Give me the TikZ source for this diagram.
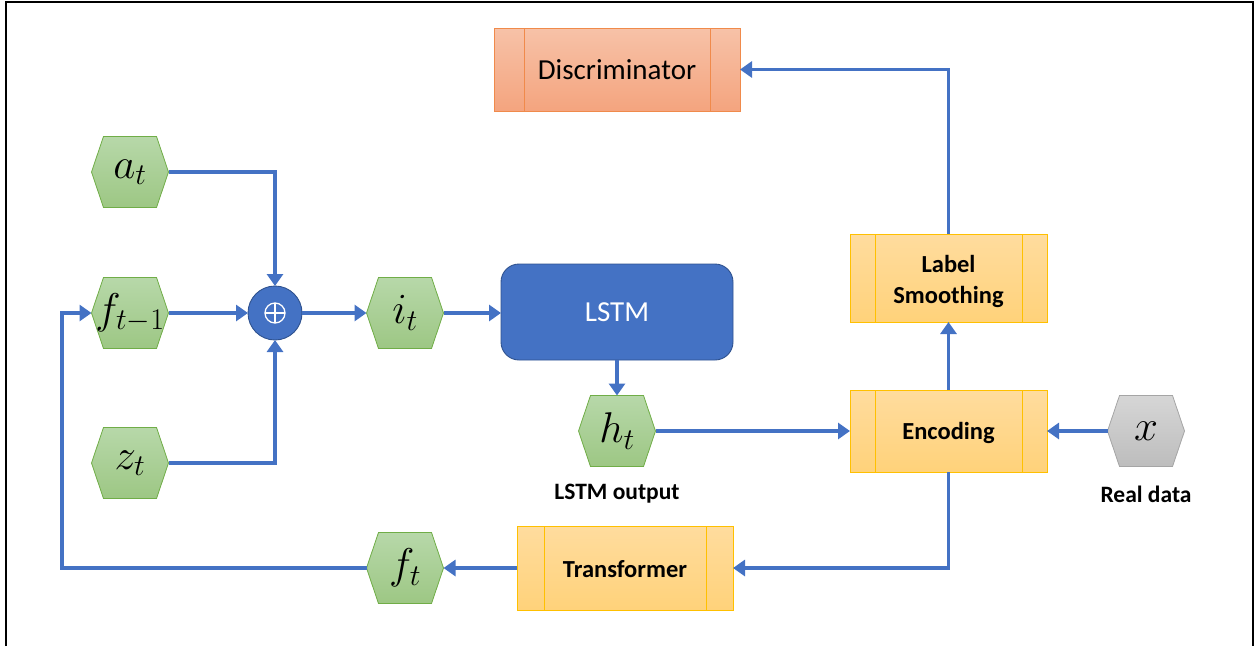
\RequirePackage{fix-cm}
\documentclass[tikz,border=0pt]{standalone}
\usepackage{fontspec}
\setmainfont{Carlito}
\usetikzlibrary{arrows.meta,calc}
\definecolor{blu}{HTML}{4472C4}
\definecolor{bluedge}{HTML}{2F528F}
\definecolor{gtop}{HTML}{B7D8A9}
\definecolor{gbot}{HTML}{9DC784}
\definecolor{gedge}{HTML}{70AD47}
\definecolor{ytop}{HTML}{FFDC9E}
\definecolor{ybot}{HTML}{FFD27A}
\definecolor{yedge}{HTML}{FFC000}
\definecolor{otop}{HTML}{F7C2A8}
\definecolor{obot}{HTML}{F4A47E}
\definecolor{oedge}{HTML}{F08A4B}
\definecolor{grtop}{HTML}{D6D6D6}
\definecolor{grbot}{HTML}{BDBDBD}
\definecolor{gredge}{HTML}{A5A5A5}
\tikzset{
  hexbox/.style={minimum width=77pt,minimum height=71pt,inner sep=0pt,outer sep=0pt},
  greenhex/.style={draw=gedge,line width=0.8pt,top color=gtop,bottom color=gbot},
  grayhex/.style={draw=gredge,line width=0.8pt,top color=grtop,bottom color=grbot},
  ybox/.style={draw=yedge,line width=0.9pt,top color=ytop,bottom color=ybot,inner sep=0pt,outer sep=0pt},
  boldtxt/.style={font=\fontsize{24.5}{31}\selectfont\bfseries,align=center},
  obox/.style={draw=oedge,line width=0.9pt,top color=otop,bottom color=obot,inner sep=0pt,outer sep=0pt,
    font=\fontsize{29}{34}\selectfont},
  conn/.style={draw=blu,line width=3.2pt,-{Triangle[length=12pt,width=16pt]}},
  mathlbl/.style={font=\fontsize{43}{50}\selectfont},
  caption/.style={font=\fontsize{23.5}{28}\selectfont\bfseries}
}
\newcommand\hexnode[4]{%
  \node[hexbox] (#1) at (#2) {};
  \draw[#4] (#1.west) -- ([xshift=12pt]#1.north west) -- ([xshift=-12pt]#1.north east)
    -- (#1.east) -- ([xshift=-12pt]#1.south east) -- ([xshift=12pt]#1.south west) -- cycle;
  \node[mathlbl] at (#1) {#3};
}
\newcommand\innerlines[3]{%
  \draw[#3,line width=0.9pt] ([xshift=#2]#1.north west) -- ([xshift=#2]#1.south west);
  \draw[#3,line width=0.9pt] ([xshift=-#2]#1.north east) -- ([xshift=-#2]#1.south east);
}
\begin{document}
\begin{tikzpicture}[x=1pt,y=-1pt]
\useasboundingbox (0,0) rectangle (1257,646);
\draw[line width=1.6pt] (6,646) -- (6,2) -- (1253,2) -- (1253,646);

% hexagons
\hexnode{at}{130,172}{$a_t$}{greenhex}
\hexnode{fm1}{130,313}{$f_{t-1}$}{greenhex}
\hexnode{zt}{130,463}{$z_t$}{greenhex}
\hexnode{it}{405,313}{$i_t$}{greenhex}
\hexnode{ht}{617,431}{$h_t$}{greenhex}
\hexnode{ft}{405,568}{$f_t$}{greenhex}
\hexnode{xr}{1146,431}{$x$}{grayhex}

% sum
\node[circle,fill=blu,draw=bluedge,line width=0.9pt,minimum size=54pt,inner sep=0pt,outer sep=0pt] (plus) at (275,313) {};
\draw[white,line width=1.3pt] (plus) circle (10pt);
\draw[white,line width=1.3pt] ($(plus)+(-10,0)$) -- ($(plus)+(10,0)$);
\draw[white,line width=1.3pt] ($(plus)+(0,-10)$) -- ($(plus)+(0,10)$);

% LSTM
\node[fill=blu,draw=bluedge,line width=0.9pt,rounded corners=18pt,minimum width=232pt,minimum height=96pt,
  inner sep=0pt,outer sep=0pt,text=white,font=\fontsize{29}{34}\selectfont] (lstm) at (617,312) {LSTM};

% boxes
\node[obox,minimum width=246pt,minimum height=83pt] (disc) at (617,69.5) {Discriminator};
\innerlines{disc}{30pt}{oedge}
\node[ybox,minimum width=197pt,minimum height=88pt] (ls) at (948.5,278) {};
\innerlines{ls}{25pt}{yedge}
\node[boldtxt] (lstxt) at (948.5,281) {Label\\Smoothing};
\node[ybox,minimum width=197pt,minimum height=82pt] (enc) at (948.5,431) {};
\innerlines{enc}{25pt}{yedge}
\node[boldtxt] (enctxt) at (948.5,433) {Encoding};
\node[ybox,minimum width=216pt,minimum height=84pt] (trans) at (625,568) {};
\innerlines{trans}{27pt}{yedge}
\node[boldtxt] (transtxt) at (625,569.5) {Transformer};

% captions
\node[caption] (lo) at (617,494) {LSTM output};
\node[caption] (rd) at (1146,494) {Real data};

% connectors
\coordinate (loop) at (62,568);
\draw[conn] (at.east) -| (plus.north);
\draw[conn] (fm1.east) -- (plus.west);
\draw[conn] (zt.east) -| (plus.south);
\draw[conn] (plus.east) -- (it.west);
\draw[conn] (it.east) -- (it.east -| lstm.west);
\draw[conn] (lstm.south) -- (ht.north);
\draw[conn] (ht.east) -- (ht.east -| enc.west);
\draw[conn] (xr.west) -- (xr.west -| enc.east);
\draw[conn] (enc.north) -- (ls.south);
\draw[conn] (ls.north) |- (disc.east);
\draw[conn] (enc.south) |- (trans.east);
\draw[conn] (trans.west) -- (ft.east);
\draw[conn] (ft.west) -- (loop) |- (fm1.west);
\end{tikzpicture}
\end{document}
